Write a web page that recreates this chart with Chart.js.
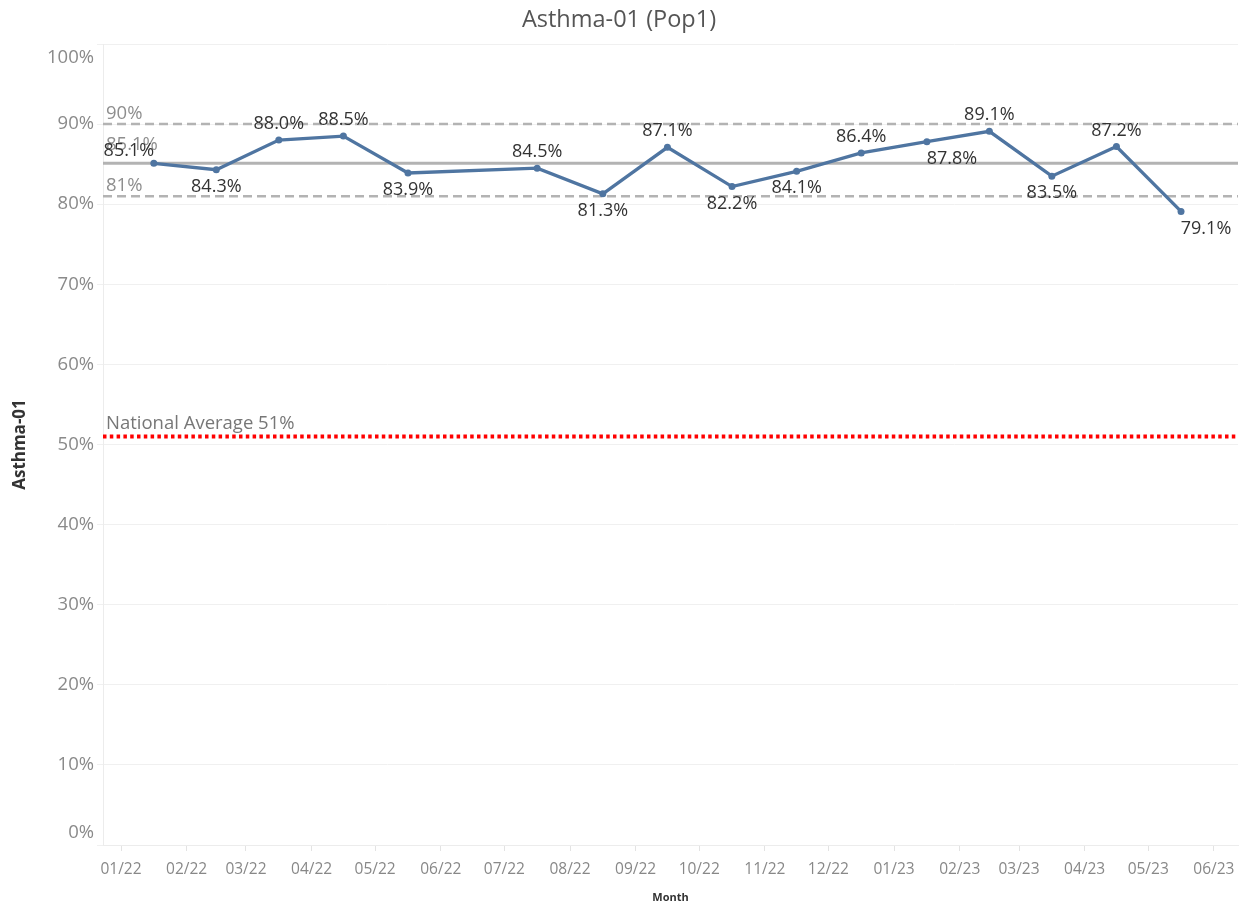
<!DOCTYPE html>
<html><head><meta charset="utf-8">
<script src="https://cdn.jsdelivr.net/npm/chart.js@4.4.0/dist/chart.umd.min.js"></script>
<style>html,body{margin:0;padding:0;background:#fff;} #wrap{width:1245px;height:910px;position:relative;}</style>
</head><body><div id="wrap"><canvas id="c" width="1245" height="910"></canvas></div>
<script>
// ---- data ----
const months = ['2022-01','2022-02','2022-03','2022-04','2022-05','2022-07','2022-08','2022-09','2022-10','2022-11','2022-12','2023-01','2023-02','2023-03','2023-04','2023-05'];
const rates = [85.1,84.3,88.0,88.5,83.9,84.5,81.3,87.1,82.2,84.1,86.4,87.8,89.1,83.5,87.2,79.1];
const tickMonths = ['2022-01','2022-02','2022-03','2022-04','2022-05','2022-06','2022-07','2022-08','2022-09','2022-10','2022-11','2022-12','2023-01','2023-02','2023-03','2023-04','2023-05','2023-06'];
const tickLabels = ['01/22','02/22','03/22','04/22','05/22','06/22','07/22','08/22','09/22','10/22','11/22','12/22','01/23','02/23','03/23','04/23','05/23','06/23'];
const yTickValues = [0,10,20,30,40,50,60,70,80,90,100];
const refValues = [90, 85.1, 81];
const refLabels = ['90%','85.1%','81%'];
const nationalAverage = 51;
const nationalLabel = 'National Average 51%';
const chartTitle = 'Asthma-01 (Pop1)';
const yTitle = 'Asthma-01';
const xTitle = 'Month';

// ---- style / placement ----
const labelPlace = ['left','below','above','above','below','above','below','above','below','below','above','belowRight','above','below','above','belowRight'];
const placeOffset = {above:[0,-16], below:[0,17], belowRight:[25,17], left:[-25,-12]};
const FONT = "'Open Sans', 'DejaVu Sans', sans-serif";

const base = Date.UTC(2022,0,1);
function monthStart(s){const [y,m]=s.split('-').map(Number);return (Date.UTC(y,m-1,1)-base)/864e5;}
function monthMid(s){const [y,m]=s.split('-').map(Number);const d=new Date(Date.UTC(y,m,0)).getUTCDate();return monthStart(s)+d/2;}
const tickValues = tickMonths.map(monthStart);
const points = months.map((m,i)=>({x:monthMid(m), y:rates[i]}));

const refPlugin = {
  id:'refs',
  beforeDatasetsDraw(chart){
    const {ctx, chartArea:a, scales:{y}} = chart;
    ctx.save();
    ctx.beginPath(); ctx.rect(a.left,a.top,a.right-a.left,a.bottom-a.top); ctx.clip();
    refValues.forEach((v,i)=>{
      const py = y.getPixelForValue(v);
      ctx.beginPath();
      ctx.strokeStyle = '#b3b3b3';
      ctx.lineWidth = i===1 ? 3 : 2.5;
      ctx.setLineDash(i===1 ? [] : [9,5]);
      ctx.moveTo(a.left,py); ctx.lineTo(a.right,py); ctx.stroke();
    });
    const ny = y.getPixelForValue(nationalAverage);
    ctx.beginPath();
    ctx.strokeStyle = '#ff0000';
    ctx.lineWidth = 4;
    ctx.setLineDash([3.5,3.3]);
    ctx.moveTo(a.left,ny); ctx.lineTo(a.right,ny); ctx.stroke();
    ctx.restore();
  },
  afterDatasetsDraw(chart){
    const {ctx, chartArea:a, scales:{x,y}} = chart;
    ctx.save();
    ctx.font = '18.5px ' + FONT;
    ctx.textBaseline = 'middle';
    ctx.textAlign = 'left';
    const refOff = [-10,-19,-10];
    refValues.forEach((v,i)=>{
      ctx.fillStyle = '#8e8e8e';
      ctx.fillText(refLabels[i], a.left+3, y.getPixelForValue(v)+refOff[i]);
    });
    ctx.fillStyle = '#777';
    ctx.fillText(nationalLabel, a.left+3, y.getPixelForValue(nationalAverage)-13);
    // data labels
    ctx.textAlign = 'center';
    ctx.fillStyle = '#333';
    ctx.font = '18px ' + FONT;
    const meta = chart.getDatasetMeta(0);
    meta.data.forEach((pt,i)=>{
      const o = placeOffset[labelPlace[i]];
      ctx.fillText(rates[i].toFixed(1)+'%', pt.x+o[0], pt.y+o[1]);
    });
    // y tick labels (clamped inside plot like the reference)
    ctx.textAlign = 'right';
    ctx.fillStyle = '#8a8a8a';
    ctx.font = '18.5px ' + FONT;
    yTickValues.forEach(v=>{
      let py = y.getPixelForValue(v);
      py = Math.max(a.top+14, Math.min(a.bottom-12, py));
      ctx.fillText(v+'%', a.left-9, py);
    });
    ctx.restore();
  }
};

new Chart(document.getElementById('c'), {
  type:'line',
  data:{datasets:[{
    data: points,
    borderColor:'#4f75a1',
    backgroundColor:'#4f75a1',
    borderWidth:3.3,
    pointRadius:3.5,
    pointBorderWidth:0,
    pointBackgroundColor:'#4f75a1',
    tension:0,
    clip:false
  }]},
  options:{
    responsive:false,
    animation:false,
    layout:{padding:{left:0,right:7,top:0,bottom:0}},
    plugins:{
      legend:{display:false},
      tooltip:{enabled:false},
      title:{display:true,text:chartTitle,color:'#555',font:{family:FONT,size:23.5,weight:'normal'},padding:{top:6,bottom:9.8}}
    },
    scales:{
      x:{
        type:'linear',
        min:-8.5, max:527.4,
        afterBuildTicks(s){ s.ticks = tickValues.map(v=>({value:v})); },
        afterFit(s){ s.height = 65; },
        ticks:{autoSkip:false,maxRotation:0,minRotation:0,padding:9,color:'#888',font:{family:FONT,size:15.5},
          callback:(v,i)=>tickLabels[i]},
        grid:{drawOnChartArea:false,drawTicks:true,tickLength:6,color:'#e3e3e3'},
        border:{display:true,color:'#ececec'},
        title:{display:true,text:xTitle,color:'#333',font:{family:FONT,size:11,weight:'bold'},padding:{top:0,bottom:6}}
      },
      y:{
        min:0,max:100,
        afterBuildTicks(s){ s.ticks = yTickValues.map(v=>({value:v})); },
        afterFit(s){ s.width = 103; },
        ticks:{color:'rgba(0,0,0,0)',font:{family:FONT,size:17},callback:v=>v+'%'},
        grid:{color:'#f0f0f0',tickLength:6,drawTicks:true},
        border:{display:true,color:'#ececec'},
        title:{display:true,text:yTitle,color:'#333',font:{family:FONT,size:17,weight:'bold'},padding:{top:10,bottom:0}}
      }
    }
  },
  plugins:[refPlugin]
});
</script></body></html>
